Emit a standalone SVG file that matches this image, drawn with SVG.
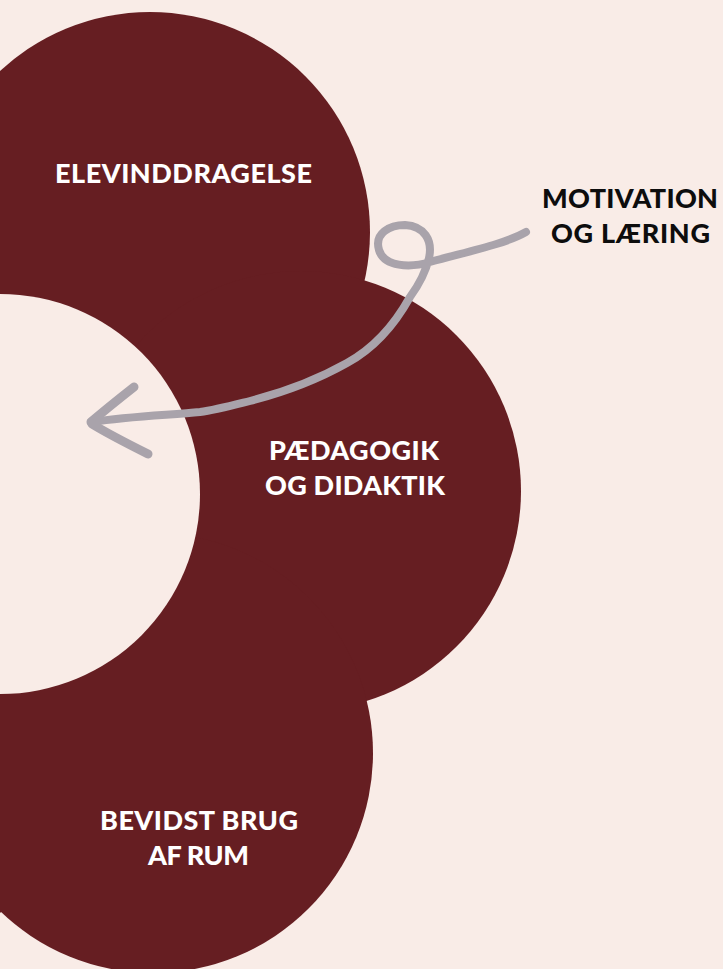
<svg xmlns="http://www.w3.org/2000/svg" width="723" height="969" viewBox="0 0 723 969">
  <style>
    .petal { fill: #661E22; }
    .hole { fill: #F9ECE7; }
    .lbl { font-family: Lato, "Liberation Sans", sans-serif; font-weight: 900; font-size: 27px; text-anchor: middle; }
    .w { fill: #FFFFFF; }
    .k { fill: #0D0D0D; }
    .arrow { fill: none; stroke: #A9A3AB; stroke-linecap: round; stroke-linejoin: round; }
  </style>
  <rect width="723" height="969" fill="#F9ECE7"/>
  <g id="flower">
    <circle class="petal" cx="-150" cy="232" r="220"/>
    <circle class="petal" cx="-150" cy="752" r="220"/>
    <circle class="petal" cx="-300" cy="492" r="220"/>
  </g>
  <g id="elevinddragelse">
    <circle class="petal" cx="150" cy="232" r="220"/>
    <text class="lbl w" x="183.5" y="183" textLength="257">ELEVINDDRAGELSE</text>
  </g>
  <g id="paedagogik">
    <circle class="petal" cx="301" cy="491" r="220"/>
    <text class="lbl w" x="354" y="460" textLength="170">PÆDAGOGIK</text>
    <text class="lbl w" x="355" y="495" textLength="180">OG DIDAKTIK</text>
  </g>
  <g id="bevidst">
    <circle class="petal" cx="153" cy="753" r="220"/>
    <text class="lbl w" x="199" y="830" textLength="198">BEVIDST BRUG</text>
    <text class="lbl w" x="198.5" y="865" textLength="101">AF RUM</text>
  </g>
  <g id="center">
    <circle class="hole" cx="0" cy="494" r="200"/>
  </g>
  <g id="motivation">
    <text class="lbl k" x="630" y="208" textLength="176">MOTIVATION</text>
    <text class="lbl k" x="630.5" y="243" textLength="159">OG LÆRING</text>
  </g>
  <g id="connectors">
    <path class="arrow" stroke-width="8" d="M526,232 C505,244 470,251 430,262 C410,268 384,267 379,250 C374,233 390,225 405,225 C424,226 433,240 429,258 C425,275 418,286 410,297 C400,315 380,345 347,363 C315,381 285,392 250,401 C230,406 215,410 200,412 C170,415 130,416 92,422"/>
    <path class="arrow" stroke-width="9" d="M91,422 C105,410 120,398 134,387"/>
    <path class="arrow" stroke-width="9" d="M92,424 C110,435 130,445 148,454"/>
  </g>
</svg>
